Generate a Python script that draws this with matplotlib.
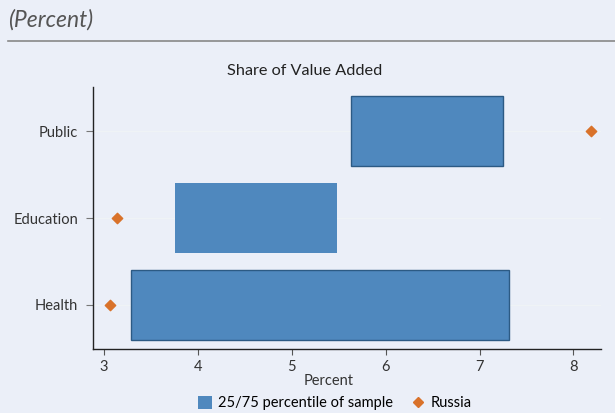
import matplotlib.pyplot as plt
from matplotlib.lines import Line2D
from matplotlib.patches import Patch

plt.rcParams['font.family'] = ['Lato', 'DejaVu Sans']

sectors = ['Health', 'Education', 'Public']
p25 = [3.29, 3.756, 5.63]
p75 = [7.31, 5.478, 7.245]
russia = [3.06, 3.14, 8.19]

bg = '#ebeff8'
blue = '#4f88be'
edge = '#2c5a84'
orange = '#d9722a'

fig = plt.figure(figsize=(6.15, 4.13), dpi=100, facecolor=bg)
ax = fig.add_axes([0.1517, 0.155, 0.8249, 0.634], facecolor=bg)

ypos = list(range(len(sectors)))
for y in ypos:
    ax.axhline(y, color='#eff3f6', lw=1.0, zorder=0)

widths = [b - a for a, b in zip(p25, p75)]
edges = [edge, 'none', edge]
ax.barh(ypos, widths, left=p25, height=0.8, color=blue, edgecolor=edges, linewidth=1.0, zorder=2)
ax.scatter(russia, ypos, marker='D', s=28, color=orange, zorder=3)

ax.set_xlim(2.886, 8.29)
ax.set_ylim(-0.506, 2.506)
ax.set_yticks(ypos)
ax.set_yticklabels(sectors)
ax.set_xticks([3, 4, 5, 6, 7, 8])
ax.tick_params(axis='y', length=5, color='#777777', labelsize=10.5, labelcolor='#333333', pad=6)
ax.tick_params(axis='x', length=4, color='#555555', labelsize=10.5, labelcolor='#333333', pad=4)
for s in ['top', 'right']:
    ax.spines[s].set_visible(False)
for s in ['left', 'bottom']:
    ax.spines[s].set_color('#222222')
    ax.spines[s].set_linewidth(1.0)

fig.text(305 / 615, 1 - 71 / 413, 'Share of Value Added', fontsize=11.7, color='#222222',
         ha='center', va='center')
ax.set_xlabel('Percent', fontsize=10.5, color='#333333')
ax.xaxis.set_label_coords((329 - 93.3) / (600.6 - 93.3), -0.095)

handles = [Patch(facecolor=blue, edgecolor='none'),
           Line2D([], [], marker='D', color=orange, linestyle='none', markersize=5)]
fig.legend(handles, ['25/75 percentile of sample', 'Russia'], loc='center',
           bbox_to_anchor=(335 / 615, 0.024), ncol=2, frameon=False, fontsize=10.5,
           handlelength=1.0, handleheight=1.0, handletextpad=0.4, columnspacing=1.2)

fig.text(8 / 615, 1 - 20 / 413, '(Percent)', fontsize=16.5, style='italic', color='#555555',
         va='center', ha='left')
fig.add_artist(Line2D([8 / 615, 1.0], [1 - 41 / 413, 1 - 41 / 413], color='#888888', lw=1.2))

fig.savefig('out.png', dpi=100, facecolor=bg)
